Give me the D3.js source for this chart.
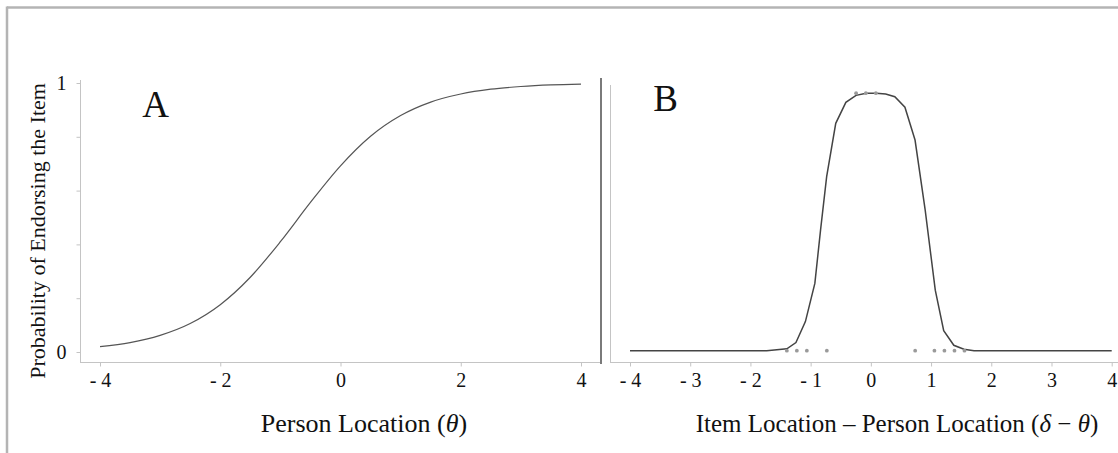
<!DOCTYPE html>
<html>
<head>
<meta charset="utf-8">
<script src="https://cdn.jsdelivr.net/npm/d3@7"></script>
<style>
  html, body { margin: 0; padding: 0; background: #fff; }
  svg { display: block; }
  text { font-family: "Liberation Serif", "Times New Roman", serif; fill: #111; }
</style>
</head>
<body>
<svg id="chart" width="1118" height="453"></svg>
<script>
// Panel A: item response function, probability by person location
const thetaA = [-4, -3.5, -3, -2.5, -2, -1.5, -1, -0.5, 0, 0.5, 1, 1.5, 2, 2.5, 3, 3.5, 4];
const probA  = [0.020, 0.035, 0.062, 0.106, 0.176, 0.278, 0.410, 0.556, 0.692, 0.802, 0.879, 0.929, 0.959, 0.977, 0.987, 0.993, 0.996];

// Panel B: probability by distance between item and person location
const distB = [-4.0, -1.73, -1.395, -1.244, -1.087, -0.930, -0.835, -0.734, -0.583, -0.415, -0.246, -0.078,
               0.090, 0.246, 0.398, 0.566, 0.734, 0.902, 1.070, 1.210, 1.378, 1.546, 1.714, 4.0];
const probB = [0.005, 0.005, 0.012, 0.035, 0.113, 0.255, 0.454, 0.652, 0.850, 0.928, 0.954, 0.962,
               0.962, 0.959, 0.949, 0.910, 0.788, 0.528, 0.230, 0.079, 0.025, 0.010, 0.005, 0.005];

// Observed responses shown as small dots in panel B
const obsDist = [-1.395, -1.229, -1.063, -0.731, 0.736, 1.056, 1.222, 1.389, 1.555, -0.245, -0.083, 0.083];
const obsProb = [0.005, 0.005, 0.005, 0.005, 0.005, 0.005, 0.005, 0.005, 0.005, 0.962, 0.962, 0.962];

// Tick values and labels
const yTicks = [0, 0.2, 0.4, 0.6, 0.8, 1];
const yTickLabels = ["0", "", "", "", "", "1"];
const xTicksA = [-4, -2, 0, 2, 4];
const xTicksB = [-4, -3, -2, -1, 0, 1, 2, 3, 4];

const svg = d3.select("#chart");
const axisGrey = "#c4c4c4";
const fmtTick = d => d < 0 ? "- " + Math.abs(d) : String(d);

// outer frame (top and left edges)
svg.append("line").attr("x1", 7).attr("x2", 1118).attr("y1", 7.5).attr("y2", 7.5)
  .attr("stroke", "#b4b4b4").attr("stroke-width", 2.5);
svg.append("line").attr("x1", 7).attr("x2", 7).attr("y1", 6.5).attr("y2", 453)
  .attr("stroke", "#b4b4b4").attr("stroke-width", 2.5);

// scales
const y = d3.scaleLinear().domain([0, 1]).range([352, 83]);
const xA = d3.scaleLinear().domain([-4, 4]).range([100, 581]);
const xB = d3.scaleLinear().domain([-4, 4]).range([630, 1111.7]);

function styleAxis(g) {
  g.attr("font-size", 20).attr("font-family", '"Liberation Serif", "Times New Roman", serif');
  g.select(".domain").remove();
  g.selectAll(".tick line").attr("stroke", axisGrey).attr("stroke-width", 1);
  g.selectAll(".tick text").attr("fill", "#111");
}

// ---- Panel A ----
svg.append("line").attr("x1", 80.5).attr("x2", 80.5).attr("y1", 80).attr("y2", 362.5)
  .attr("stroke", axisGrey);
svg.append("line").attr("x1", 80).attr("x2", 600).attr("y1", 362.5).attr("y2", 362.5)
  .attr("stroke", axisGrey);

svg.append("g").attr("transform", "translate(80.5,0)")
  .call(d3.axisLeft(y).tickValues(yTicks).tickSize(4).tickPadding(10)
    .tickFormat((d, i) => yTickLabels[i]))
  .call(styleAxis);

svg.append("g").attr("transform", "translate(0,362.5)")
  .call(d3.axisBottom(xA).tickValues(xTicksA).tickSize(4).tickPadding(6).tickFormat(fmtTick))
  .call(styleAxis);

svg.append("path")
  .datum(thetaA.map((t, i) => [t, probA[i]]))
  .attr("fill", "none").attr("stroke", "#555").attr("stroke-width", 1.2)
  .attr("d", d3.line().x(d => xA(d[0])).y(d => y(d[1])).curve(d3.curveMonotoneX));

svg.append("text").attr("x", 155.5).attr("y", 117).attr("text-anchor", "middle")
  .attr("font-size", 37).text("A");

// y-axis title
svg.append("text").attr("transform", "translate(45,231) rotate(-90)")
  .attr("text-anchor", "middle").attr("font-size", 22).text("Probability of Endorsing the Item");

// x-axis title A
const tA = svg.append("text").attr("x", 364).attr("y", 432).attr("text-anchor", "middle")
  .attr("font-size", 26);
tA.append("tspan").text("Person Location (");
tA.append("tspan").attr("font-style", "italic").text("θ");
tA.append("tspan").text(")");

// separator between panels
svg.append("line").attr("x1", 601).attr("x2", 601).attr("y1", 78).attr("y2", 364)
  .attr("stroke", "#7a7a7a").attr("stroke-width", 2);

// ---- Panel B ----
svg.append("line").attr("x1", 610.5).attr("x2", 610.5).attr("y1", 85).attr("y2", 362.5)
  .attr("stroke", axisGrey);
svg.append("line").attr("x1", 610).attr("x2", 1118).attr("y1", 362.5).attr("y2", 362.5)
  .attr("stroke", axisGrey);

svg.append("g").attr("transform", "translate(0,362.5)")
  .call(d3.axisBottom(xB).tickValues(xTicksB).tickSize(4).tickPadding(6).tickFormat(fmtTick))
  .call(styleAxis);

svg.append("path")
  .datum(distB.map((t, i) => [t, probB[i]]))
  .attr("fill", "none").attr("stroke", "#444").attr("stroke-width", 1.5)
  .attr("d", d3.line().x(d => xB(d[0])).y(d => y(d[1])));

svg.append("g").selectAll("circle")
  .data(obsDist.map((t, i) => [t, obsProb[i]]))
  .join("circle")
  .attr("cx", d => xB(d[0])).attr("cy", d => y(d[1])).attr("r", 1.9)
  .attr("fill", "#9a9a9a");

svg.append("text").attr("x", 665.5).attr("y", 111).attr("text-anchor", "middle")
  .attr("font-size", 37).text("B");

// x-axis title B
const tB = svg.append("text").attr("x", 897).attr("y", 432).attr("text-anchor", "middle")
  .attr("font-size", 25);
tB.append("tspan").text("Item Location – Person Location (");
tB.append("tspan").attr("font-style", "italic").text("δ");
tB.append("tspan").text(" − ");
tB.append("tspan").attr("font-style", "italic").text("θ");
tB.append("tspan").text(")");
</script>
</body>
</html>
